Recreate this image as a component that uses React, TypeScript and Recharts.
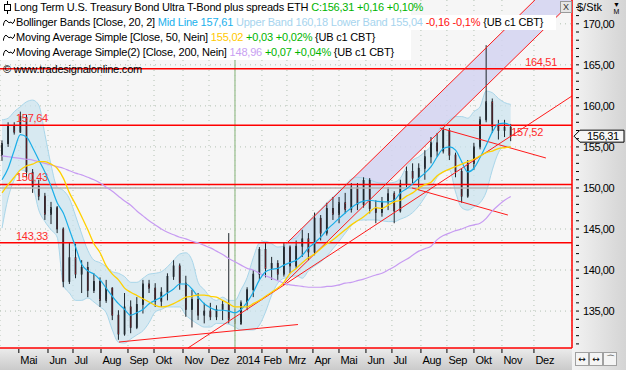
import React from "react";
import {
  ComposedChart,
  Area,
  Line,
  Bar,
  XAxis,
  YAxis,
  CartesianGrid,
  ReferenceLine,
} from "recharts";

// weekly candles, week 0 = 8 Apr 2013 ... week 83 = 10 Nov 2014
const opens = [
  154.0, 155.4, 157.5, 156.8, 158.6, 151.9, 150.2, 149.0, 146.8, 147.6,
  145.0, 138.6, 141.5, 139.5, 140.3, 137.5, 138.6, 136.3, 137.8, 134.5,
  132.2, 135.5, 133.0, 135.8, 138.3, 137.8, 136.2, 137.3, 139.2, 140.5,
  138.4, 135.2, 136.4, 134.5, 135.0, 134.3, 135.2, 135.8, 134.0, 133.5,
  136.0, 137.6, 139.5, 142.5, 140.2, 140.8, 139.5, 142.8, 140.5, 142.9,
  143.8, 142.2, 146.3, 144.5, 147.5, 146.8, 148.2, 147.4, 150.1, 148.0,
  150.9, 147.5, 147.0, 148.3, 149.3, 147.2, 150.5, 152.0, 151.2, 152.4,
  153.8, 155.5, 154.5, 157.0, 154.0, 152.0, 149.0, 153.0, 155.0, 158.3,
  160.5, 157.5, 157.0, 157.4,
];
const highs = [
  155.8, 158.0, 158.0, 159.3, 158.9, 152.3, 151.0, 149.4, 148.3, 147.8,
  145.2, 143.3, 143.2, 141.2, 141.0, 139.6, 139.1, 138.8, 137.9, 135.1,
  137.2, 136.3, 136.7, 138.8, 138.8, 138.4, 137.9, 139.6, 141.2, 140.8,
  139.3, 137.6, 137.2, 136.0, 136.0, 135.7, 136.3, 144.5, 135.3, 136.3,
  137.9, 140.0, 142.8, 143.3, 141.6, 141.2, 143.3, 143.0, 143.6, 144.9,
  144.5, 147.0, 146.7, 148.2, 148.9, 148.9, 149.4, 150.6, 150.6, 151.3,
  151.2, 148.5, 148.9, 150.1, 149.6, 151.0, 152.6, 153.0, 153.0, 154.6,
  156.2, 156.7, 157.4, 157.3, 154.3, 152.3, 153.4, 155.5, 158.7, 167.4,
  160.9, 158.3, 158.3, 157.8,
];
const lows = [
  153.3, 155.0, 156.5, 156.7, 151.3, 149.4, 148.5, 146.1, 145.6, 144.5,
  137.9, 138.3, 139.0, 137.2, 136.7, 137.2, 135.5, 136.0, 133.9, 131.5,
  132.0, 132.3, 132.8, 134.7, 137.2, 135.5, 135.5, 136.3, 138.8, 137.6,
  134.3, 133.0, 133.9, 133.5, 133.9, 133.9, 133.9, 133.5, 132.7, 133.3,
  135.1, 136.7, 138.8, 139.1, 138.8, 138.8, 139.2, 139.6, 140.2, 141.6,
  141.2, 141.8, 143.6, 144.2, 146.1, 145.7, 146.9, 147.0, 147.3, 147.6,
  146.9, 145.7, 146.5, 147.3, 145.7, 147.0, 150.1, 150.6, 149.8, 151.0,
  153.0, 153.8, 154.2, 153.4, 151.3, 148.2, 148.8, 152.2, 154.7, 158.0,
  156.7, 155.9, 156.2, 155.7,
];
const closes = [
  155.4, 157.5, 156.8, 158.7, 152.0, 150.2, 149.0, 146.8, 147.6, 145.0,
  138.6, 141.5, 139.5, 140.3, 137.5, 138.6, 136.3, 137.8, 134.5, 132.2,
  135.5, 133.0, 135.8, 138.3, 137.8, 136.2, 137.3, 139.2, 140.5, 138.4,
  135.2, 136.4, 134.5, 135.0, 134.3, 135.2, 135.8, 134.0, 133.5, 136.0,
  137.6, 139.5, 142.5, 140.2, 140.8, 139.5, 142.8, 140.5, 142.9, 143.8,
  142.2, 146.3, 144.5, 147.5, 146.8, 148.2, 147.4, 150.1, 148.0, 150.9,
  147.5, 147.0, 148.3, 149.3, 147.2, 150.5, 152.0, 151.2, 152.4, 153.8,
  155.5, 154.5, 157.0, 154.0, 152.0, 149.0, 153.0, 155.0, 158.3, 160.5,
  157.5, 157.0, 157.4, 156.31,
];

// Bollinger Bands (20, 2)
const bbUpper = [
  158.3, 158.5, 159.3, 159.9, 160.5, 160.7, 160.1, 156.5, 152.8, 150.1,
  149.7, 148.7, 146.6, 144.4, 142.4, 141.2, 140.9, 140.4, 139.8, 139.6,
  139.2, 138.5, 138.5, 139.0, 139.5, 139.6, 139.8, 140.4, 141.2, 141.95,
  142.1, 141.2, 138.5, 137.6, 136.7, 136.3, 136.7, 136.3, 136.3, 137.6,
  139.1, 141.5, 143.3, 143.5, 143.2, 142.8, 142.9, 143.7, 143.9, 144.9,
  145.9, 146.7, 147.4, 148.2, 148.9, 149.6, 150.4, 151.1, 151.3, 151.2,
  151.0, 150.7, 150.6, 150.6, 150.7, 151.2, 152.6, 153.4, 153.8, 154.4,
  155.1, 156.7, 157.7, 158.3, 158.7, 158.7, 158.5, 159.3, 159.9, 161.8,
  161.6, 160.9, 160.4, 160.18,
];
const bbLower = [
  145.1, 148.8, 151.0, 152.2, 151.95, 150.4, 147.3, 145.9, 144.9, 144.0,
  138.2, 137.2, 136.3, 136.3, 136.6, 136.1, 135.5, 134.8, 132.7, 131.2,
  131.1, 131.6, 132.1, 132.6, 133.6, 134.9, 135.2, 135.5, 135.5, 135.5,
  134.5, 133.9, 133.4, 133.05, 133.05, 133.5, 133.5, 133.4, 133.05, 132.7,
  132.7, 132.7, 133.3, 134.9, 136.95, 138.4, 139.0, 139.15, 139.3, 139.0,
  139.9, 140.5, 141.0, 141.7, 142.6, 143.5, 144.5, 145.4, 146.0, 146.1,
  146.1, 146.1, 146.0, 145.9, 145.9, 146.2, 146.5, 147.0, 147.8, 148.9,
  150.0, 151.3, 151.95, 152.2, 149.5, 147.6, 147.3, 147.7, 148.2, 149.5,
  152.2, 154.3, 155.1, 155.04,
];
const bbMid = [
  151.0, 152.4, 154.6, 156.5, 156.2, 154.9, 153.4, 151.95, 150.2, 148.2,
  146.95, 144.9, 142.8, 140.7, 139.9, 139.5, 138.8, 137.8, 136.8, 135.9,
  135.2, 134.5, 134.8, 135.2, 135.9, 136.3, 136.7, 137.2, 137.7, 138.3,
  138.3, 137.7, 136.7, 135.9, 135.4, 135.1, 135.1, 135.0, 134.8, 135.2,
  136.1, 137.3, 138.8, 139.8, 140.1, 140.2, 140.6, 140.9, 141.2, 141.8,
  142.7, 143.3, 144.0, 144.9, 145.6, 146.3, 146.95, 147.6, 148.1, 148.4,
  148.5, 148.4, 148.3, 148.3, 148.5, 149.4, 149.9, 150.5, 151.2, 151.8,
  152.6, 153.8, 154.8, 155.0, 154.6, 153.2, 151.95, 152.4, 153.7, 155.2,
  156.8, 157.8, 157.9, 157.61,
];
const sma50 = [
  149.4, 150.4, 151.3, 152.2, 152.7, 152.9, 153.2, 153.2, 152.9, 152.4,
  151.2, 149.4, 148.0, 146.5, 144.9, 143.2, 142.1, 140.5, 139.5, 138.8,
  137.8, 137.3, 136.9, 136.5, 136.1, 135.7, 135.5, 135.6, 135.9, 136.3,
  136.7, 136.8, 136.95, 136.95, 136.8, 136.7, 136.3, 135.9, 135.5, 135.5,
  135.5, 135.9, 136.3, 136.8, 137.3, 137.8, 138.5, 139.6, 140.2, 140.9,
  141.5, 141.95, 142.6, 143.2, 143.7, 144.3, 144.9, 145.5, 146.0, 146.5,
  147.1, 147.6, 147.5, 147.9, 148.3, 148.5, 149.0, 149.4, 150.0, 150.4,
  150.7, 151.5, 151.95, 152.3, 152.6, 152.9, 153.2, 153.5, 153.9, 154.3,
  154.5, 154.8, 154.9, 155.02,
];
const sma200 = [
  153.9, 153.8, 153.7, 153.6, 153.5, 153.4, 153.2, 153.0, 152.8, 152.6,
  152.4, 152.1, 151.8, 151.6, 151.3, 151.0, 150.6, 150.1, 149.6, 149.0,
  148.4, 147.9, 147.2, 146.6, 146.0, 145.5, 145.0, 144.6, 144.3, 144.0,
  143.8, 143.5, 143.3, 143.0, 142.7, 142.3, 141.9, 141.4, 141.0, 140.6,
  140.2, 140.0, 139.6, 139.3, 139.0, 138.7, 138.4, 138.2, 138.1, 138.0,
  137.9, 137.9, 137.9, 138.0, 138.05, 138.2, 138.4, 138.5, 138.7, 138.9,
  139.15, 139.4, 139.6, 140.0, 140.4, 140.9, 141.3, 141.8, 142.3, 142.6,
  142.9, 143.7, 144.2, 144.5, 144.8, 145.0, 145.3, 145.5, 145.7, 146.3,
  147.2, 147.9, 148.5, 148.96,
];

// month ticks, in week units of the time axis
const monthPos = [
  2.74, 7.5, 11.58, 16.15, 20.55, 24.8, 29.53, 33.77, 38.01, 42.41,
  46.49, 50.73, 54.98, 59.38, 63.62, 68.35, 72.59, 77.0, 81.57, 86.79,
];
const monthNames = [
  "Mai", "Jun", "Jul", "Aug", "Sep", "Okt", "Nov", "Dez", "2014", "Feb",
  "Mrz", "Apr", "Mai", "Jun", "Jul", "Aug", "Sep", "Okt", "Nov", "Dez",
];
const priceGrid = [135, 140, 145, 150, 155, 160, 165, 170];
const priceTicks = [
  131, 132, 133, 134, 135, 136, 137, 138, 139, 140, 141, 142, 143, 144, 145,
  146, 147, 148, 149, 150, 151, 152, 153, 154, 155, 156, 157, 158, 159, 160,
  161, 162, 163, 164, 165, 166, 167, 168, 169, 170, 171, 172,
];

// horizontal levels
const levelValues = [164.51, 157.64, 157.52, 150.43, 143.33];
const levelTexts = ["164,51", "157,64", "157,52", "150,43", "143,33"];
const levelSides = ["right", "left", "rightBelow", "left", "left"];

// trend lines [week, price] -> [week, price]
const trendLines = [
  [[19.09, 131.23], [48.29, 133.36]],
  [[30.34, 130.5], [92.99, 161.2]],
  [[46.49, 143.29], [86.95, 172.9]],
  [[45.84, 138.18], [92.99, 172.68]],
  [[71.45, 157.3], [88.74, 153.65]],
  [[66.88, 150.0], [82.54, 146.7]],
];

// up channel (shaded)
const channelWeeks = [46.17, 86.95, 92.99];
const channelLow = [138.42, 168.27, 172.68];
const channelHigh = [143.05, 172.9, 172.9];

const lastPrice = 156.31;
const yearStart = 38.01;

const FONT = "'Liberation Sans', Arial, sans-serif";

const rows = opens.map((open, i) => ({
  x: i,
  open,
  high: highs[i],
  low: lows[i],
  close: closes[i],
  range: [lows[i], highs[i]],
  band: [bbLower[i], bbUpper[i]],
  mid: bbMid[i],
  ma50: sma50[i],
  ma200: sma200[i],
}));

const channelData = channelWeeks.map((x, i) => ({
  x,
  ch: [channelLow[i], channelHigh[i]],
}));

const Candle = (props: any) => {
  const { x, y, width, height, payload } = props;
  if (x == null || y == null) return null;
  const top = Math.min(y, y + height);
  const h = Math.abs(height);
  const span = Math.max(payload.high - payload.low, 0.0001);
  const k = h / span;
  const py = (v: number) => top + (payload.high - v) * k;
  const cx = x + width / 2;
  const bodyTop = py(Math.max(payload.open, payload.close));
  const bodyBot = py(Math.min(payload.open, payload.close));
  const down = payload.close < payload.open;
  return (
    <g>
      <line x1={cx} x2={cx} y1={top} y2={top + h} stroke="#1c2329" strokeWidth={1} />
      <rect
        x={x}
        y={bodyTop}
        width={width}
        height={Math.max(bodyBot - bodyTop, 1)}
        fill={down ? "#e2141c" : "#2a3239"}
        stroke="#1c2329"
        strokeWidth={0.8}
      />
    </g>
  );
};

const PriceTick = (props: any) => {
  const { y, payload } = props;
  const v = payload.value;
  return (
    <g>
      <line x1={576} x2={579} y1={y} y2={y} stroke="#000" />
      {v % 5 === 0 && (
        <text x={583} y={y + 4} fontSize={11} fontFamily={FONT} fill="#000" letterSpacing={-0.4}>
          {v.toFixed(2).replace(".", ",")}
        </text>
      )}
    </g>
  );
};

const MonthTick = (props: any) => {
  const { x, payload } = props;
  const name = monthNames[monthPos.indexOf(payload.value)];
  return (
    <g>
      <line x1={x} x2={x} y1={349} y2={353} stroke="#000" />
      <text x={x + 1.5} y={364} fontSize={11} fontFamily={FONT} fill="#000" letterSpacing={-0.3}>
        {name}
      </text>
    </g>
  );
};

const levelLabel = (text: string, side: string) => (p: any) => {
  const vb = p.viewBox || {};
  const right = vb.x + vb.width;
  let tx = vb.x + 16;
  let ty = vb.y - 3;
  let anchor = "start";
  if (side === "right") {
    tx = right - 15;
    anchor = "end";
  } else if (side === "rightBelow") {
    tx = right - 29;
    ty = vb.y + 10;
    anchor = "end";
  }
  return (
    <text x={tx} y={ty} textAnchor={anchor} fontSize={11} fontFamily={FONT} fill="#ff2b2b" letterSpacing={-0.3}>
      {text}
    </text>
  );
};

const priceBox = (p: any) => {
  const vb = p.viewBox || {};
  const x0 = vb.x + vb.width + 2;
  const y = vb.y;
  return (
    <g>
      <polygon
        points={`${x0},${y} ${x0 + 6},${y - 6} ${x0 + 50},${y - 6} ${x0 + 50},${y + 6} ${x0 + 6},${y + 6}`}
        fill="#f6f6f6"
        stroke="#000"
        strokeWidth={1}
      />
      <text x={x0 + 13} y={y + 4} fontSize={11} fontFamily={FONT} fill="#000" letterSpacing={-0.3}>
        {lastPrice.toFixed(2).replace(".", ",")}
      </text>
    </g>
  );
};

const rowStyle: React.CSSProperties = {
  position: "absolute",
  left: 0,
  height: 15,
  lineHeight: "15px",
  background: "#fff",
  whiteSpace: "nowrap",
  fontFamily: FONT,
  fontSize: 11,
  letterSpacing: -0.2,
  color: "#000",
};

const Wave = () => (
  <svg width={12} height={9} style={{ position: "absolute", left: 3, top: 3 }}>
    <path d="M0,8 Q2,0 4,3 T8,4 Q10,8 12,1" fill="none" stroke="#000" strokeWidth={1} />
  </svg>
);

const CandleIcon = () => (
  <svg width={9} height={13} style={{ position: "absolute", left: 3, top: 1 }}>
    <line x1={4.5} x2={4.5} y1={0} y2={13} stroke="#000" />
    <rect x={1.5} y={3.5} width={6} height={6} fill="#fff" stroke="#000" />
  </svg>
);

export default function App() {
  return (
    <div style={{ position: "absolute", left: 0, top: 0, width: 626, height: 370, overflow: "hidden", background: "#f6f6f6" }}>
      <div style={{ position: "absolute", left: 572, top: 0, width: 54, height: 370, background: "linear-gradient(to right, #f3f3f3, #d4d4d4)" }} />
      <div style={{ position: "absolute", left: 0, top: 348, width: 572, height: 22, background: "linear-gradient(to bottom, #ececec, #cacaca)" }} />
      <div style={{ position: "absolute", left: 0, top: 0 }}>
        <ComposedChart width={626} height={370} data={rows} margin={{ top: 0, right: 0, bottom: 0, left: 0 }}>
          <CartesianGrid
            fill="#f6f6f6"
            stroke="#b3c2b3"
            strokeDasharray="1 4"
            horizontalValues={priceGrid}
          />
          <XAxis
            dataKey="x"
            type="number"
            domain={[-0.33, 93]}
            allowDataOverflow
            ticks={monthPos}
            interval={0}
            tick={MonthTick}
            tickLine={false}
            axisLine={{ stroke: "#ff0000", strokeWidth: 1.5 }}
            height={22}
          />
          <YAxis
            orientation="right"
            type="number"
            domain={[130.5, 172.9]}
            allowDataOverflow
            ticks={priceTicks}
            interval={0}
            tick={PriceTick}
            tickLine={false}
            axisLine={{ stroke: "#ff0000", strokeWidth: 1.5 }}
            width={54}
          />
          <Area
            data={channelData}
            dataKey="ch"
            type="linear"
            fill="#d3d3f1"
            fillOpacity={0.85}
            stroke="none"
            isAnimationActive={false}
          />
          <Area
            dataKey="band"
            type="monotone"
            fill="#cbe4ef"
            fillOpacity={0.7}
            stroke="#a9d6ea"
            strokeWidth={1}
            isAnimationActive={false}
          />
          <ReferenceLine x={yearStart} stroke="#a9c8a0" strokeWidth={1.5} />
          <ReferenceLine y={150} stroke="#b4b4b4" strokeWidth={1.5} />
          {levelValues.map((v, i) => (
            <ReferenceLine
              key={"lv" + i}
              y={v}
              stroke={levelSides[i] === "rightBelow" ? "none" : "#ff0000"}
              strokeWidth={1.5}
              label={levelLabel(levelTexts[i], levelSides[i])}
            />
          ))}
          {trendLines.map((seg, i) => (
            <ReferenceLine
              key={"tl" + i}
              segment={[
                { x: seg[0][0], y: seg[0][1] },
                { x: seg[1][0], y: seg[1][1] },
              ]}
              stroke="#ff1a1a"
              strokeWidth={1}
              ifOverflow="visible"
            />
          ))}
          <Line dataKey="ma200" type="monotone" stroke="#c79bf2" strokeWidth={1.2} dot={false} isAnimationActive={false} />
          <Bar dataKey="range" barSize={5} shape={Candle} isAnimationActive={false} />
          <Line dataKey="mid" type="monotone" stroke="#1aaee8" strokeWidth={1.2} dot={false} isAnimationActive={false} />
          <Line dataKey="ma50" type="monotone" stroke="#ffd000" strokeWidth={1.3} dot={false} isAnimationActive={false} />
          <ReferenceLine y={lastPrice} stroke="none" ifOverflow="visible" label={priceBox} />
        </ComposedChart>
      </div>

      {/* legend */}
      <div style={{ ...rowStyle, top: 0, width: 411 }}>
        <CandleIcon />
        <span style={{ position: "absolute", left: 14 }}>
          Long Term U.S. Treasury Bond Ultra T-Bond plus spreads ETH <span style={{ color: "#00b400" }}>C:156,31 +0,16 +0,10%</span>
        </span>
      </div>
      <div style={{ ...rowStyle, top: 15, width: 556 }}>
        <Wave />
        <span style={{ position: "absolute", left: 16 }}>
          Bollinger Bands [Close, 20, 2] <span style={{ color: "#1ab0ec" }}>Mid Line 157,61</span>{" "}
          <span style={{ color: "#a6d4ee" }}>Upper Band 160,18 Lower Band 155,04</span>{" "}
          <span style={{ color: "#ff1010" }}>-0,16 -0,1%</span> {"{UB c1 CBT}"}
        </span>
      </div>
      <div style={{ ...rowStyle, top: 30, width: 411 }}>
        <Wave />
        <span style={{ position: "absolute", left: 16 }}>
          Moving Average Simple [Close, 50, Nein] <span style={{ color: "#ffc800" }}>155,02</span>{" "}
          <span style={{ color: "#00b400" }}>+0,03 +0,02%</span> {"{UB c1 CBT}"}
        </span>
      </div>
      <div style={{ ...rowStyle, top: 45, width: 411 }}>
        <Wave />
        <span style={{ position: "absolute", left: 16 }}>
          Moving Average Simple(2) [Close, 200, Nein] <span style={{ color: "#c8a0f2" }}>148,96</span>{" "}
          <span style={{ color: "#00b400" }}>+0,07 +0,04%</span> {"{UB c1 CBT}"}
        </span>
      </div>
      <div style={{ ...rowStyle, top: 62, background: "transparent", left: 3 }}>© www.tradesignalonline.com</div>

      {/* axis header and buttons */}
      <div style={{ position: "absolute", left: 577, top: 1, fontFamily: FONT, fontSize: 11, color: "#000" }}>$/Stk</div>
      <div style={{ position: "absolute", left: 613, top: 1, fontFamily: FONT, fontSize: 7, lineHeight: "7px", color: "#000", textAlign: "center" }}>
        ▼<br />M
      </div>
      <div
        style={{
          position: "absolute",
          left: 560,
          top: 1,
          width: 10,
          height: 10,
          border: "1px solid #9a9a9a",
          background: "#e6e6e6",
          fontFamily: FONT,
          fontSize: 9,
          lineHeight: "10px",
          textAlign: "center",
          color: "#333",
        }}
      >
        X
      </div>
      {["↔", "↔", "⌒"].map((s, i) => (
        <div
          key={i}
          style={{
            position: "absolute",
            left: 575 + i * 14,
            top: 352,
            width: 12,
            height: 12,
            border: "1px solid #a0a0a0",
            background: "#f4f4f4",
            fontFamily: "'DejaVu Sans', sans-serif",
            fontSize: 9,
            lineHeight: "12px",
            textAlign: "center",
            color: "#000",
          }}
        >
          {s}
        </div>
      ))}
    </div>
  );
}
